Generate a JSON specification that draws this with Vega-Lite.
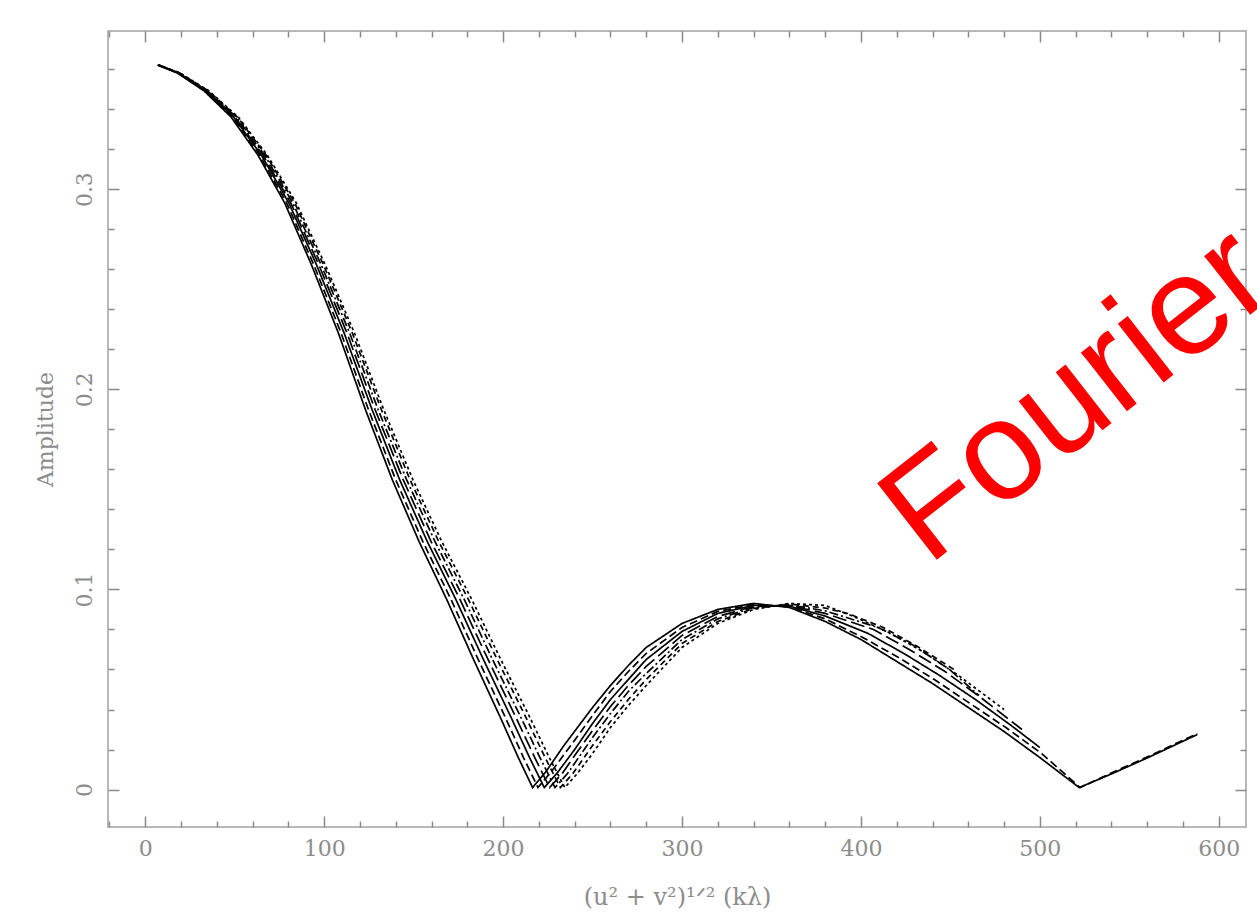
{
  "$schema": "https://vega.github.io/schema/vega-lite/v6.json",
  "width": 1138,
  "height": 796,
  "autosize": {"type": "none"},
  "padding": {"left": 108, "top": 31, "right": 11, "bottom": 97},
  "background": "white",
  "config": {
    "view": {"stroke": "#b8b8b8", "strokeWidth": 2},
    "axis": {"grid": false, "domain": false, "tickColor": "#8a8a8a", "tickWidth": 1.5}
  },
  "datasets": {
    "curves": [
      {"s":"S1","x":7,"y":0.362},{"s":"S1","x":18,"y":0.358},{"s":"S1","x":33,"y":0.349},{"s":"S1","x":48,"y":0.336},{"s":"S1","x":63,"y":0.317},{"s":"S1","x":78,"y":0.293},{"s":"S1","x":93,"y":0.262},{"s":"S1","x":108,"y":0.228},{"s":"S1","x":123,"y":0.19},{"s":"S1","x":138,"y":0.155},{"s":"S1","x":153,"y":0.124},{"s":"S1","x":168.5,"y":0.095},{"s":"S1","x":183.5,"y":0.065},{"s":"S1","x":198.5,"y":0.036},{"s":"S1","x":208.5,"y":0.016},{"s":"S1","x":216.5,"y":0.001},{"s":"S1","x":224,"y":0.009},{"s":"S1","x":234,"y":0.022},{"s":"S1","x":250,"y":0.041},{"s":"S1","x":260,"y":0.052},{"s":"S1","x":270,"y":0.062},{"s":"S1","x":280,"y":0.071},{"s":"S1","x":300,"y":0.083},{"s":"S1","x":320,"y":0.09},{"s":"S1","x":340,"y":0.093},{"s":"S1","x":360,"y":0.091},{"s":"S1","x":380,"y":0.084},{"s":"S1","x":400,"y":0.075},{"s":"S1","x":420,"y":0.064},{"s":"S1","x":440,"y":0.053},{"s":"S1","x":460,"y":0.041},{"s":"S1","x":480,"y":0.029},{"s":"S1","x":500,"y":0.016},{"s":"S1","x":522,"y":0.001},{"s":"S1","x":540.5,"y":0.008},{"s":"S1","x":560.5,"y":0.016},{"s":"S1","x":588,"y":0.0275},

      {"s":"S2","x":7,"y":0.362},{"s":"S2","x":18.3,"y":0.358},{"s":"S2","x":33.5,"y":0.349},{"s":"S2","x":48.7,"y":0.336},{"s":"S2","x":63.9,"y":0.317},{"s":"S2","x":79.1,"y":0.293},{"s":"S2","x":94.3,"y":0.262},{"s":"S2","x":109.5,"y":0.228},{"s":"S2","x":124.7,"y":0.19},{"s":"S2","x":139.9,"y":0.155},{"s":"S2","x":155.1,"y":0.124},{"s":"S2","x":170.9,"y":0.095},{"s":"S2","x":186.1,"y":0.065},{"s":"S2","x":201.3,"y":0.036},{"s":"S2","x":211.4,"y":0.016},{"s":"S2","x":219.5,"y":0.001},{"s":"S2","x":227,"y":0.009},{"s":"S2","x":237,"y":0.021},{"s":"S2","x":250,"y":0.037},{"s":"S2","x":260,"y":0.049},{"s":"S2","x":270,"y":0.059},{"s":"S2","x":280,"y":0.068},{"s":"S2","x":300,"y":0.081},{"s":"S2","x":320,"y":0.089},{"s":"S2","x":340,"y":0.0925},{"s":"S2","x":360,"y":0.0913},{"s":"S2","x":380,"y":0.0853},{"s":"S2","x":401,"y":0.076},{"s":"S2","x":421,"y":0.066},{"s":"S2","x":441,"y":0.055},{"s":"S2","x":461,"y":0.043},{"s":"S2","x":481,"y":0.031},{"s":"S2","x":501,"y":0.018},{"s":"S2","x":522.5,"y":0.001},{"s":"S2","x":540.5,"y":0.0085},{"s":"S2","x":560.5,"y":0.0165},{"s":"S2","x":588,"y":0.028},

      {"s":"S3","x":7,"y":0.362},{"s":"S3","x":18.5,"y":0.358},{"s":"S3","x":34,"y":0.349},{"s":"S3","x":49.4,"y":0.336},{"s":"S3","x":64.9,"y":0.317},{"s":"S3","x":80.3,"y":0.293},{"s":"S3","x":95.8,"y":0.262},{"s":"S3","x":111.2,"y":0.228},{"s":"S3","x":126.7,"y":0.19},{"s":"S3","x":142.1,"y":0.155},{"s":"S3","x":157.6,"y":0.124},{"s":"S3","x":173.6,"y":0.095},{"s":"S3","x":189,"y":0.065},{"s":"S3","x":204.5,"y":0.036},{"s":"S3","x":214.8,"y":0.016},{"s":"S3","x":223,"y":0.001},{"s":"S3","x":230,"y":0.008},{"s":"S3","x":240,"y":0.02},{"s":"S3","x":250,"y":0.033},{"s":"S3","x":260,"y":0.045},{"s":"S3","x":270,"y":0.055},{"s":"S3","x":280,"y":0.065},{"s":"S3","x":300,"y":0.079},{"s":"S3","x":320,"y":0.088},{"s":"S3","x":340,"y":0.092},{"s":"S3","x":360,"y":0.0917},{"s":"S3","x":380,"y":0.0867},{"s":"S3","x":404,"y":0.078},{"s":"S3","x":424,"y":0.068},{"s":"S3","x":444,"y":0.057},{"s":"S3","x":464,"y":0.045},{"s":"S3","x":484,"y":0.032},{"s":"S3","x":500,"y":0.021},

      {"s":"S4","x":7.3,"y":0.362},{"s":"S4","x":18.8,"y":0.358},{"s":"S4","x":34.5,"y":0.349},{"s":"S4","x":50.1,"y":0.336},{"s":"S4","x":65.8,"y":0.317},{"s":"S4","x":81.4,"y":0.293},{"s":"S4","x":97.1,"y":0.262},{"s":"S4","x":112.8,"y":0.228},{"s":"S4","x":128.4,"y":0.19},{"s":"S4","x":144.1,"y":0.155},{"s":"S4","x":159.7,"y":0.124},{"s":"S4","x":175.9,"y":0.095},{"s":"S4","x":191.6,"y":0.065},{"s":"S4","x":207.2,"y":0.036},{"s":"S4","x":217.7,"y":0.016},{"s":"S4","x":226,"y":0.001},{"s":"S4","x":233,"y":0.008},{"s":"S4","x":240,"y":0.017},{"s":"S4","x":250,"y":0.0295},{"s":"S4","x":260,"y":0.0415},{"s":"S4","x":270,"y":0.052},{"s":"S4","x":280,"y":0.0615},{"s":"S4","x":300,"y":0.077},{"s":"S4","x":320,"y":0.0865},{"s":"S4","x":340,"y":0.0915},{"s":"S4","x":360,"y":0.092},{"s":"S4","x":380,"y":0.088},{"s":"S4","x":407,"y":0.08},{"s":"S4","x":427,"y":0.07},{"s":"S4","x":447,"y":0.059},{"s":"S4","x":467,"y":0.046},{"s":"S4","x":490,"y":0.03},

      {"s":"S5","x":7.4,"y":0.362},{"s":"S5","x":19,"y":0.358},{"s":"S5","x":34.9,"y":0.349},{"s":"S5","x":50.8,"y":0.336},{"s":"S5","x":66.7,"y":0.317},{"s":"S5","x":82.5,"y":0.293},{"s":"S5","x":98.4,"y":0.262},{"s":"S5","x":114.3,"y":0.228},{"s":"S5","x":130.1,"y":0.19},{"s":"S5","x":146,"y":0.155},{"s":"S5","x":161.9,"y":0.124},{"s":"S5","x":178.3,"y":0.095},{"s":"S5","x":194.1,"y":0.065},{"s":"S5","x":210,"y":0.036},{"s":"S5","x":220.6,"y":0.016},{"s":"S5","x":229,"y":0.001},{"s":"S5","x":236,"y":0.008},{"s":"S5","x":250,"y":0.026},{"s":"S5","x":260,"y":0.038},{"s":"S5","x":270,"y":0.049},{"s":"S5","x":280,"y":0.058},{"s":"S5","x":300,"y":0.075},{"s":"S5","x":320,"y":0.0853},{"s":"S5","x":340,"y":0.091},{"s":"S5","x":360,"y":0.0923},{"s":"S5","x":380,"y":0.0893},{"s":"S5","x":409.5,"y":0.081},{"s":"S5","x":429.5,"y":0.072},{"s":"S5","x":449.5,"y":0.06},{"s":"S5","x":466,"y":0.047},

      {"s":"S6","x":7.5,"y":0.362},{"s":"S6","x":19.3,"y":0.358},{"s":"S6","x":35.4,"y":0.349},{"s":"S6","x":51.5,"y":0.336},{"s":"S6","x":67.5,"y":0.317},{"s":"S6","x":83.6,"y":0.293},{"s":"S6","x":99.7,"y":0.262},{"s":"S6","x":115.8,"y":0.228},{"s":"S6","x":131.9,"y":0.19},{"s":"S6","x":147.9,"y":0.155},{"s":"S6","x":164,"y":0.124},{"s":"S6","x":180.6,"y":0.095},{"s":"S6","x":196.7,"y":0.065},{"s":"S6","x":212.8,"y":0.036},{"s":"S6","x":223.5,"y":0.016},{"s":"S6","x":232,"y":0.001},{"s":"S6","x":239,"y":0.008},{"s":"S6","x":250,"y":0.022},{"s":"S6","x":260,"y":0.034},{"s":"S6","x":270,"y":0.045},{"s":"S6","x":280,"y":0.055},{"s":"S6","x":300,"y":0.073},{"s":"S6","x":320,"y":0.084},{"s":"S6","x":340,"y":0.0905},{"s":"S6","x":360,"y":0.0927},{"s":"S6","x":380,"y":0.0907},{"s":"S6","x":392.5,"y":0.088},{"s":"S6","x":412.5,"y":0.081},{"s":"S6","x":432.5,"y":0.071},{"s":"S6","x":452,"y":0.06},

      {"s":"S7","x":7.6,"y":0.362},{"s":"S7","x":19.5,"y":0.358},{"s":"S7","x":35.7,"y":0.349},{"s":"S7","x":52,"y":0.336},{"s":"S7","x":68.2,"y":0.317},{"s":"S7","x":84.5,"y":0.293},{"s":"S7","x":100.7,"y":0.262},{"s":"S7","x":117,"y":0.228},{"s":"S7","x":133.2,"y":0.19},{"s":"S7","x":149.5,"y":0.155},{"s":"S7","x":165.7,"y":0.124},{"s":"S7","x":182.5,"y":0.095},{"s":"S7","x":198.7,"y":0.065},{"s":"S7","x":215,"y":0.036},{"s":"S7","x":225.8,"y":0.016},{"s":"S7","x":234.5,"y":0.001},{"s":"S7","x":241.5,"y":0.008},{"s":"S7","x":250,"y":0.018},{"s":"S7","x":260,"y":0.031},{"s":"S7","x":270,"y":0.042},{"s":"S7","x":280,"y":0.052},{"s":"S7","x":300,"y":0.071},{"s":"S7","x":320,"y":0.083},{"s":"S7","x":340,"y":0.09},{"s":"S7","x":360,"y":0.093},{"s":"S7","x":380,"y":0.092},{"s":"S7","x":394.5,"y":0.087},{"s":"S7","x":414.5,"y":0.079},{"s":"S7","x":434.5,"y":0.069},{"s":"S7","x":454.5,"y":0.057},{"s":"S7","x":480,"y":0.04}
    ]
  },
  "data": {"name": "curves"},
  "layer": [
    {
      "mark": {"type": "line", "color": "black", "strokeWidth": 1.7, "strokeCap": "butt"},
      "encoding": {
        "x": {
          "field": "x", "type": "quantitative",
          "scale": {"domain": [-20.8, 615.2], "nice": false, "zero": false},
          "axis": {
            "orient": "bottom", "values": [0, 100, 200, 300, 400, 500, 600], "format": "d",
            "ticks": false, "labelPadding": 11,
            "labelFont": "DejaVu Serif", "labelFontSize": 22, "labelColor": "#8c8c8c",
            "title": "(u² + v²)¹ᐟ² (kλ)", "titleFont": "DejaVu Serif", "titleFontSize": 24,
            "titleFontWeight": "normal", "titleColor": "#8c8c8c", "titlePadding": 26
          }
        },
        "y": {
          "field": "y", "type": "quantitative",
          "scale": {"domain": [-0.0187, 0.379], "nice": false, "zero": false},
          "axis": {
            "orient": "left", "values": [0, 0.1, 0.2, 0.3], "format": ".1~f",
            "ticks": false, "labelPadding": 12, "labelAngle": 270,
            "labelAlign": "center", "labelBaseline": "bottom",
            "labelFont": "DejaVu Serif", "labelFontSize": 22, "labelColor": "#8c8c8c",
            "title": "Amplitude", "titleFont": "DejaVu Serif", "titleFontSize": 22,
            "titleFontWeight": "normal", "titleColor": "#8c8c8c", "titlePadding": 16
          }
        },
        "strokeDash": {
          "field": "s", "type": "nominal",
          "scale": {
            "domain": ["S1", "S2", "S3", "S4", "S5", "S6", "S7"],
            "range": [[1, 0], [8, 4], [1, 0], [14, 5], [9, 3, 2, 3], [6, 4], [3, 3]]
          },
          "legend": null
        }
      }
    },
    {
      "mark": {"type": "point", "opacity": 0},
      "encoding": {
        "x": {"field": "x", "type": "quantitative", "axis": {"orient": "bottom", "values": [0, 100, 200, 300, 400, 500, 600], "labels": false, "tickSize": -11, "title": null}},
        "y": {"field": "y", "type": "quantitative", "axis": {"orient": "left", "values": [0, 0.1, 0.2, 0.3], "labels": false, "tickSize": -11, "title": null}}
      }
    },
    {
      "mark": {"type": "point", "opacity": 0},
      "encoding": {
        "x": {"field": "x", "type": "quantitative", "axis": {"orient": "bottom", "values": [-20, 20, 40, 60, 80, 120, 140, 160, 180, 220, 240, 260, 280, 320, 340, 360, 380, 420, 440, 460, 480, 520, 540, 560, 580], "labels": false, "tickSize": -6, "title": null}},
        "y": {"field": "y", "type": "quantitative", "axis": {"orient": "left", "values": [0.02, 0.04, 0.06, 0.08, 0.12, 0.14, 0.16, 0.18, 0.22, 0.24, 0.26, 0.28, 0.32, 0.34, 0.36], "labels": false, "tickSize": -6, "title": null}}
      }
    },
    {
      "mark": {"type": "point", "opacity": 0},
      "encoding": {
        "x": {"field": "x", "type": "quantitative", "axis": {"orient": "top", "values": [0, 100, 200, 300, 400, 500, 600], "labels": false, "tickSize": -11, "title": null}},
        "y": {"field": "y", "type": "quantitative", "axis": {"orient": "right", "values": [0, 0.1, 0.2, 0.3], "labels": false, "tickSize": -11, "title": null}}
      }
    },
    {
      "mark": {"type": "point", "opacity": 0},
      "encoding": {
        "x": {"field": "x", "type": "quantitative", "axis": {"orient": "top", "values": [-20, 20, 40, 60, 80, 120, 140, 160, 180, 220, 240, 260, 280, 320, 340, 360, 380, 420, 440, 460, 480, 520, 540, 560, 580], "labels": false, "tickSize": -6, "title": null}},
        "y": {"field": "y", "type": "quantitative", "axis": {"orient": "right", "values": [0.02, 0.04, 0.06, 0.08, 0.12, 0.14, 0.16, 0.18, 0.22, 0.24, 0.26, 0.28, 0.32, 0.34, 0.36], "labels": false, "tickSize": -6, "title": null}}
      }
    },
    {
      "data": {"values": [{"label": "Fourier"}]},
      "mark": {"type": "text", "font": "Liberation Sans", "fontSize": 141, "color": "#ff0000", "angle": 322, "align": "left", "baseline": "alphabetic"},
      "encoding": {
        "x": {"datum": 437.3, "type": "quantitative", "axis": null},
        "y": {"datum": 0.1113, "type": "quantitative", "axis": null},
        "text": {"field": "label", "type": "nominal"}
      }
    }
  ],
  "resolve": {"axis": {"x": "independent", "y": "independent"}}
}
